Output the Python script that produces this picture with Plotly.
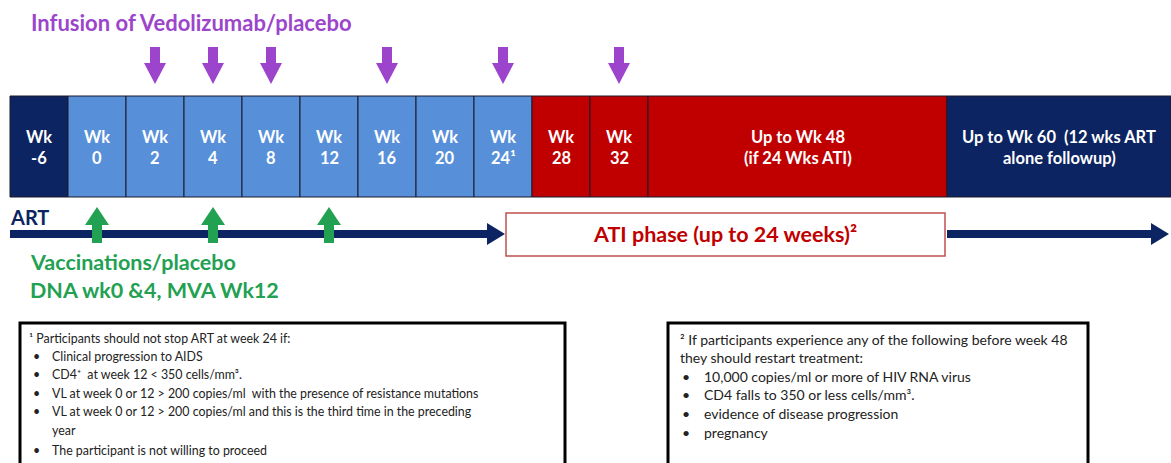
import plotly.graph_objects as go

# ---------------- data ----------------
week_labels = ["-6", "0", "2", "4", "8", "12", "16", "20", "24¹", "28", "32"]
week_keys = ["-6", "0", "2", "4", "8", "12", "16", "20", "24", "28", "32"]
week_phase = ["ART", "Trial", "Trial", "Trial", "Trial", "Trial", "Trial", "Trial", "Trial", "ATI", "ATI"]
long_labels = [["Up to Wk 48", "(if 24 Wks ATI)"], ["Up to Wk 60  (12 wks ART", "alone followup)"]]
long_phase = ["ATI", "ART"]
infusion_weeks = ["2", "4", "8", "16", "24", "32"]
vaccination_weeks = ["0", "4", "12"]
title_infusion = "Infusion of Vedolizumab/placebo"
vacc_lines = ["Vaccinations/placebo", "DNA wk0 &4, MVA Wk12"]
ati_label = "ATI phase (up to 24 weeks)²"
note1_lines = [
    ("", "¹ Participants should not stop ART at week 24 if:"),
    ("•", "Clinical progression to AIDS"),
    ("•", "CD4⁺  at week 12 < 350 cells/mm³."),
    ("•", "VL at week 0 or 12 > 200 copies/ml  with the presence of resistance mutations"),
    ("•", "VL at week 0 or 12 > 200 copies/ml and this is the third time in the preceding"),
    ("", "year"),
    ("•", "The participant is not willing to proceed"),
]
note2_lines = [
    ("", "² If participants experience any of the following before week 48"),
    ("", "they should restart treatment:"),
    ("•", "10,000 copies/ml or more of HIV RNA virus"),
    ("•", "CD4 falls to 350 or less cells/mm³."),
    ("•", "evidence of disease progression"),
    ("•", "pregnancy"),
]

# ---------------- styles / layout constants ----------------
NAVY = "#0C2461"
LBLUE = "#5790D8"
RED = "#C00000"
PURPLE = "#9C45CC"
GREEN = "#22A152"
phase_color = {"ART": NAVY, "Trial": LBLUE, "ATI": RED}
FONT = "Lato"

W, H = 1171, 463
X0, CELL_W = 10, 58
BAR_TOP, BAR_BOT = 96, 197
LONG_EDGES = [648, 947, 1171]
ART_Y = 234

# geometry derived from indices
lefts = [X0 + i * CELL_W for i in range(len(week_keys))] + LONG_EDGES[:-1]
widths = [CELL_W] * len(week_keys) + [LONG_EDGES[i + 1] - LONG_EDGES[i] for i in range(2)]
colors = [phase_color[p] for p in week_phase + long_phase]
centers = [l + w / 2 for l, w in zip(lefts, widths)]
week_center = {k: centers[i] for i, k in enumerate(week_keys)}

fig = go.Figure()
fig.add_trace(go.Bar(
    orientation="h",
    y=[(BAR_TOP + BAR_BOT) / 2] * len(lefts),
    x=widths,
    base=lefts,
    width=BAR_BOT - BAR_TOP,
    marker=dict(color=colors, line=dict(color="#1B1B2A", width=1)),
    hoverinfo="skip",
    showlegend=False,
))

shapes = []
ann = []
CELL_FONT = dict(color="white", size=16.5, family=FONT, weight="bold")

# cell labels
for i, lab in enumerate(week_labels):
    ann.append(dict(x=centers[i], y=137, text="Wk", font=CELL_FONT,
                    showarrow=False, xanchor="center", yanchor="middle"))
    ann.append(dict(x=centers[i], y=158, text=lab, font=CELL_FONT,
                    showarrow=False, xanchor="center", yanchor="middle"))
for j, lines in enumerate(long_labels):
    c = centers[len(week_keys) + j]
    for k, ln in enumerate(lines):
        ann.append(dict(x=c, y=137 + 21 * k, text=ln, font=CELL_FONT,
                        showarrow=False, xanchor="center", yanchor="middle"))

# infusion arrows (down)
for wk in infusion_weeks:
    cx = week_center[wk]
    path = (f"M {cx-5},47 L {cx+5},47 L {cx+5},63 L {cx+11},63 L {cx},84 "
            f"L {cx-11},63 L {cx-5},63 Z")
    shapes.append(dict(type="path", path=path, fillcolor=PURPLE, line=dict(width=0), xref="x", yref="y"))

# ART line + arrow heads
def h_arrow(x_start, x_end):
    return (f"M {x_start},{ART_Y-4} L {x_end-18},{ART_Y-4} L {x_end-18},{ART_Y-11} L {x_end},{ART_Y} "
            f"L {x_end-18},{ART_Y+11} L {x_end-18},{ART_Y+4} L {x_start},{ART_Y+4} Z")
shapes.append(dict(type="path", path=h_arrow(10, 505), fillcolor=NAVY, line=dict(width=0), xref="x", yref="y"))
shapes.append(dict(type="path", path=h_arrow(947, 1169), fillcolor=NAVY, line=dict(width=0), xref="x", yref="y"))

# vaccination arrows (up)
for wk in vaccination_weeks:
    cx = week_center[wk]
    path = (f"M {cx},207 L {cx+12},225 L {cx+5},225 L {cx+5},243 L {cx-5},243 "
            f"L {cx-5},225 L {cx-12},225 Z")
    shapes.append(dict(type="path", path=path, fillcolor=GREEN, line=dict(width=0), xref="x", yref="y"))

# ATI box
shapes.append(dict(type="rect", x0=506, x1=945, y0=213, y1=256, fillcolor="white",
                   line=dict(color="#C0504D", width=1.5), xref="x", yref="y"))
ann.append(dict(x=725, y=234, text=ati_label, font=dict(color=RED, size=21.5, family=FONT, weight="bold"),
                showarrow=False, xanchor="center", yanchor="middle"))

# titles
ann.append(dict(x=29, y=22, text=title_infusion, font=dict(color=PURPLE, size=22, family=FONT, weight="bold"),
                showarrow=False, xanchor="left", yanchor="middle"))
ann.append(dict(x=8, y=217, text="ART", font=dict(color=NAVY, size=20, family=FONT, weight="bold"),
                showarrow=False, xanchor="left", yanchor="middle"))
for k, ln in enumerate(vacc_lines):
    ann.append(dict(x=28, y=262 + 28 * k, text=ln, font=dict(color=GREEN, size=21.5, family=FONT, weight="bold"),
                    showarrow=False, xanchor="left", yanchor="middle"))

# note boxes
shapes.append(dict(type="rect", x0=20, x1=565, y0=323, y1=470, fillcolor="white",
                   line=dict(color="black", width=3), xref="x", yref="y"))
shapes.append(dict(type="rect", x0=668, x1=1088, y0=323, y1=470, fillcolor="white",
                   line=dict(color="black", width=3), xref="x", yref="y"))

def note(lines, ys, x_text0, x_bullet, x_text, size):
    f = dict(color="#222222", size=size, family=FONT)
    for (b, t), y in zip(lines, ys):
        if b:
            ann.append(dict(x=x_bullet, y=y, text=b, font=f,
                            showarrow=False, xanchor="left", yanchor="middle"))
            ann.append(dict(x=x_text, y=y, text=t, font=f,
                            showarrow=False, xanchor="left", yanchor="middle"))
        else:
            xx = x_text if t == "year" else x_text0
            ann.append(dict(x=xx, y=y, text=t, font=f,
                            showarrow=False, xanchor="left", yanchor="middle"))

note(note1_lines, [338, 356, 374, 393, 411, 430, 450], 27, 31, 50, 12.4)
note(note2_lines, [339, 357, 376, 394, 413, 432], 678, 680, 702, 14)

fig.update_layout(
    width=W, height=H,
    margin=dict(l=0, r=0, t=0, b=0),
    paper_bgcolor="white", plot_bgcolor="white",
    xaxis=dict(range=[0, W], visible=False, fixedrange=True),
    yaxis=dict(range=[H, 0], visible=False, fixedrange=True),
    shapes=shapes, annotations=ann,
    showlegend=False,
)
fig.write_html("out.html", config={"displayModeBar": False},
               post_script="document.body.style.margin='0';document.body.style.overflow='hidden';")
